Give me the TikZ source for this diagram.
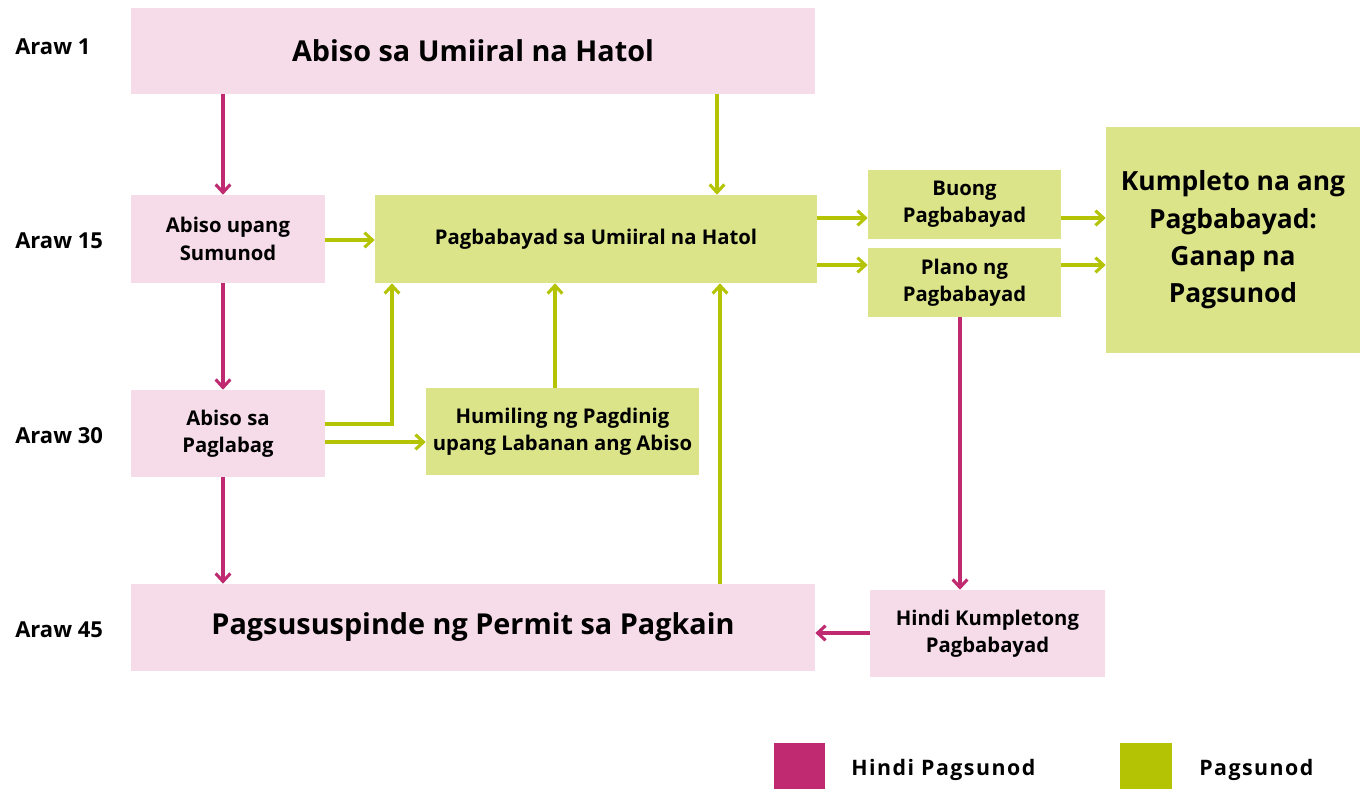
\documentclass[tikz,border=0pt]{standalone}
\usepackage{fontspec}
\setmainfont{Open Sans}
\newfontfamily\spacedfont[LetterSpace=7]{Open Sans}
\usetikzlibrary{arrows.meta}
\definecolor{mag}{HTML}{BF2A70}
\definecolor{grn}{HTML}{B4C404}
\definecolor{pinkbg}{HTML}{F6DCE9}
\definecolor{grnbg}{HTML}{DCE489}
\tikzset{
  x=0.75pt, y=-0.75pt,
  pbox/.style={fill=pinkbg, draw=none, inner sep=0pt, align=center, font=\bfseries\fontsize{15.2}{20.5}\selectfont},
  gbox/.style={fill=grnbg, draw=none, inner sep=0pt, align=center, font=\bfseries\fontsize{15.2}{20.5}\selectfont},
  big/.style={font=\bfseries\fontsize{21.6}{28}\selectfont},
  marr/.style={draw=mag, line width=2.3pt, -{Straight Barb[length=6pt,width=11pt,line width=2.3pt]}},
  garr/.style={draw=grn, line width=2.3pt, -{Straight Barb[length=6pt,width=11pt,line width=2.3pt]}},
  day/.style={anchor=west, inner sep=0pt, font=\bfseries\fontsize{16.5}{18}\selectfont},
  legtext/.style={anchor=west, inner sep=0pt, font=\spacedfont\bfseries\fontsize{16}{18}\selectfont},
}
\begin{document}
\begin{tikzpicture}
\useasboundingbox (0,0) rectangle (1360,790);
% boxes
\node[pbox, big, minimum width=684*0.75pt, minimum height=86*0.75pt] (hatol) at (473,51) {Abiso sa Umiiral na Hatol};
\node[pbox, minimum width=194*0.75pt, minimum height=88*0.75pt] (sumunod) at (228,239) {Abiso upang\\Sumunod};
\node[gbox, minimum width=442*0.75pt, minimum height=88*0.75pt] (bayad) at (596,239) {Pagbabayad sa Umiiral na Hatol};
\node[gbox, minimum width=193*0.75pt, minimum height=69*0.75pt] (buong) at (964.5,204.5) {Buong\\Pagbabayad};
\node[gbox, minimum width=193*0.75pt, minimum height=69*0.75pt] (plano) at (964.5,282.5) {Plano ng\\Pagbabayad};
\node[gbox, minimum width=254*0.75pt, minimum height=226*0.75pt, font=\bfseries\fontsize{19.8}{28}\selectfont] (kumpleto) at (1233,240) {Kumpleto na ang\\Pagbabayad:\\Ganap na\\Pagsunod};
\node[pbox, minimum width=194*0.75pt, minimum height=87*0.75pt] (paglabag) at (228,433.5) {Abiso sa\\Paglabag};
\node[gbox, minimum width=273*0.75pt, minimum height=87*0.75pt] (humiling) at (562.5,431.5) {Humiling ng Pagdinig\\upang Labanan ang Abiso};
\node[pbox, big, minimum width=684*0.75pt, minimum height=87*0.75pt] (suspend) at (473,627.5) {Pagsususpinde ng Permit sa Pagkain};
\node[pbox, minimum width=235*0.75pt, minimum height=87*0.75pt] (hindi) at (987.5,633.5) {Hindi Kumpletong\\Pagbabayad};
% day labels
\node[day] (d1) at (15,47) {Araw 1};
\node[day] (d15) at (15,241) {Araw 15};
\node[day] (d30) at (15,436) {Araw 30};
\node[day] (d45) at (15,630) {Araw 45};
% magenta arrows
\draw[marr] (hatol.south -| 223,0) -- (sumunod.north -| 223,0);
\draw[marr] (sumunod.south -| 223,0) -- (paglabag.north -| 223,0);
\draw[marr] (paglabag.south -| 223,0) -- (suspend.north -| 223,0);
\draw[marr] (plano.south -| 960,0) -- (hindi.north -| 960,0);
\draw[marr] (hindi.west |- 0,633) -- (suspend.east |- 0,633);
% green arrows
\draw[garr] (sumunod.east |- 0,240) -- (bayad.west |- 0,240);
\draw[garr] (hatol.south -| 717,0) -- (bayad.north -| 717,0);
\draw[garr] (paglabag.east |- 0,424) -- (392,424) -- (bayad.south -| 392,0);
\draw[garr] (paglabag.east |- 0,442) -- (humiling.west |- 0,442);
\draw[garr] (humiling.north -| 555,0) -- (bayad.south -| 555,0);
\draw[garr] (suspend.north -| 720,0) -- (bayad.south -| 720,0);
\draw[garr] (bayad.east |- 0,218) -- (buong.west |- 0,218);
\draw[garr] (bayad.east |- 0,265) -- (plano.west |- 0,265);
\draw[garr] (buong.east |- 0,218) -- (kumpleto.west |- 0,218);
\draw[garr] (plano.east |- 0,265) -- (kumpleto.west |- 0,265);
% legend
\node[fill=mag, minimum width=51*0.75pt, minimum height=46*0.75pt, inner sep=0pt] (lm) at (799.5,766) {};
\node[legtext] (lmt) at (851,770) {Hindi Pagsunod};
\node[fill=grn, minimum width=52*0.75pt, minimum height=46*0.75pt, inner sep=0pt] (lg) at (1146,766) {};
\node[legtext] (lgt) at (1199,770) {Pagsunod};
\end{tikzpicture}
\end{document}
